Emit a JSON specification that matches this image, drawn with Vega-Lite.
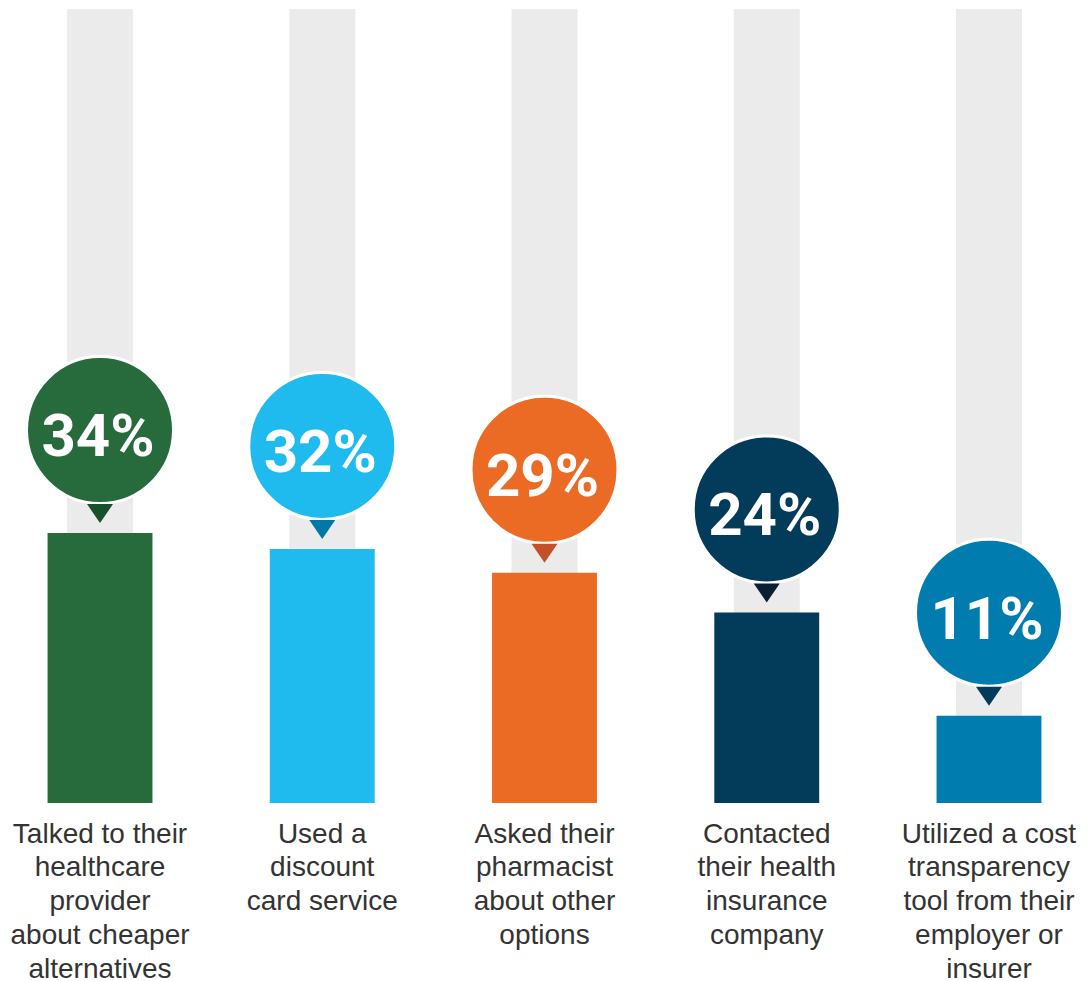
{
  "$schema": "https://vega.github.io/schema/vega-lite/v6.json",
  "width": 1089,
  "height": 794,
  "autosize": {"type": "none"},
  "padding": {"top": 9, "left": 0, "right": 0, "bottom": 178},
  "background": "white",
  "config": {"view": {"stroke": null}},
  "data": {
    "values": [
      {"label": "Talked to their\nhealthcare\nprovider\nabout cheaper\nalternatives", "value": 0.34},
      {"label": "Used a\ndiscount\ncard service", "value": 0.32},
      {"label": "Asked their\npharmacist\nabout other\noptions", "value": 0.29},
      {"label": "Contacted\ntheir health\ninsurance\ncompany", "value": 0.24},
      {"label": "Utilized a cost\ntransparency\ntool from their\nemployer or\ninsurer", "value": 0.11}
    ]
  },
  "encoding": {
    "x": {
      "field": "label",
      "type": "nominal",
      "sort": null,
      "scale": {"paddingInner": 0.528, "paddingOuter": 0.214},
      "axis": {
        "title": null,
        "ticks": false,
        "domain": false,
        "labelAngle": 0,
        "labelFont": "Liberation Sans",
        "labelFontSize": 28,
        "labelColor": "#333333",
        "labelLineHeight": 33.75,
        "labelPadding": 17,
        "labelLimit": 400,
        "labelOverlap": false,
        "labelExpr": "split(datum.value, '\\n')"
      }
    }
  },
  "layer": [
    {
      "mark": {"type": "bar", "color": "#EBEBEB", "width": {"band": 0.629}},
      "encoding": {
        "y": {"datum": 1, "type": "quantitative", "scale": {"domain": [0, 1]}, "axis": null}
      }
    },
    {
      "mark": {"type": "bar"},
      "encoding": {
        "y": {"field": "value", "type": "quantitative", "axis": null},
        "color": {
          "field": "label",
          "type": "nominal",
          "sort": null,
          "scale": {"range": ["#276A3C", "#1FBBEE", "#EB6B25", "#033B5A", "#007DAE"]},
          "legend": null
        }
      }
    },
    {
      "mark": {"type": "point", "shape": "circle", "filled": true, "size": 21609, "stroke": "white", "strokeWidth": 3, "opacity": 1, "yOffset": -103},
      "encoding": {
        "y": {"field": "value", "type": "quantitative", "axis": null},
        "color": {"field": "label", "type": "nominal", "sort": null, "legend": null}
      }
    },
    {
      "mark": {"type": "point", "shape": "M-1,-0.73L1,-0.73L0,0.73Z", "filled": true, "size": 676, "opacity": 1, "yOffset": -19.5},
      "encoding": {
        "y": {"field": "value", "type": "quantitative", "axis": null},
        "fill": {
          "field": "label",
          "type": "nominal",
          "sort": null,
          "scale": {"range": ["#17502A", "#0079A8", "#C4502A", "#0B1F33", "#033B5A"]},
          "legend": null
        }
      }
    },
    {
      "mark": {"type": "text", "font": "Roboto", "fontWeight": "bold", "fontSize": 60, "color": "white", "baseline": "alphabetic", "align": "center", "yOffset": -77, "dx": -2},
      "encoding": {
        "y": {"field": "value", "type": "quantitative", "axis": null},
        "text": {"field": "value", "type": "quantitative", "format": ".0%"}
      }
    }
  ]
}
